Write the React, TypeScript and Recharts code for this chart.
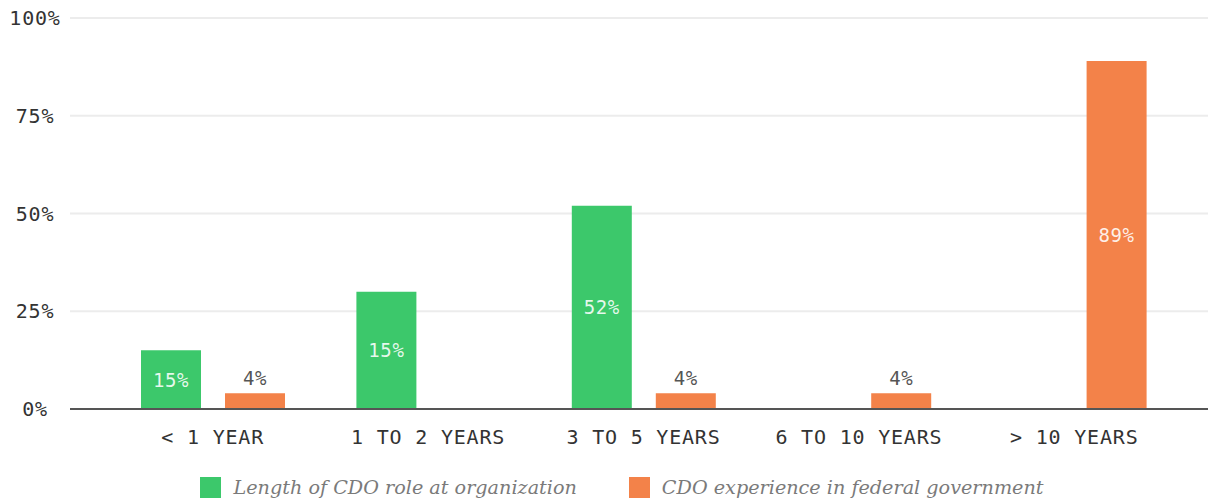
import * as React from "react";
import { BarChart, Bar, XAxis, YAxis, CartesianGrid, Legend, LabelList } from "recharts";

const categories = ["< 1 YEAR", "1 TO 2 YEARS", "3 TO 5 YEARS", "6 TO 10 YEARS", "> 10 YEARS"];
const roleValues = [15, 30, 52, 0, 0];
const roleLabels = ["15%", "15%", "52%", "", ""];
const fedValues = [4, 0, 4, 4, 89];
const fedLabels = ["4%", "", "4%", "4%", "89%"];
const yTicks = [0, 25, 50, 75, 100];

const GREEN = "#3cc86b";
const ORANGE = "#f38249";
const MONO = "'DejaVu Sans Mono', monospace";
const SERIF = "'DejaVu Serif', serif";

const data = categories.map((name, i) => ({
    name,
    role: roleValues[i],
    roleLabel: roleLabels[i],
    fed: fedValues[i],
    fedLabel: fedLabels[i],
}));

// label sits inside tall bars, above short ones
const BarLabel = (props: any) => {
    const { x, y, width, height, value } = props;
    if (!value) return null;
    const inside = height > 40;
    return (
        <text
            x={x + width / 2}
            y={inside ? y + height / 2 : y - 15}
            textAnchor="middle"
            dominantBaseline="central"
            fontFamily={MONO}
            fontSize={19}
            letterSpacing={0.6}
            fill={inside ? "rgba(255,255,255,0.88)" : "#555"}
        >
            {value}
        </text>
    );
};

const YTick = (props: any) => {
    const { y, payload } = props;
    return (
        <text x={35} y={y} textAnchor="middle" dominantBaseline="central" fontFamily={MONO} fontSize={20} letterSpacing={0.8} fill="#333">
            {payload.value}%
        </text>
    );
};

const XTick = (props: any) => {
    const { x, payload } = props;
    return (
        <text x={x} y={437} textAnchor="middle" dominantBaseline="central" fontFamily={MONO} fontSize={20} letterSpacing={0.8} fill="#333">
            {payload.value}
        </text>
    );
};

const LegendContent = () => (
    <div style={{ display: "flex", justifyContent: "center", gap: 52, paddingTop: 17, paddingLeft: 36, fontFamily: SERIF, fontStyle: "italic", fontSize: 19.2, color: "#7a7a7a" }}>
        {[
            { c: GREEN, t: "Length of CDO role at organization" },
            { c: ORANGE, t: "CDO experience in federal government" },
        ].map((it) => (
            <div key={it.t} style={{ display: "flex", alignItems: "center" }}>
                <span style={{ width: 21, height: 21, background: it.c, display: "inline-block", marginRight: 12 }} />
                <span>{it.t}</span>
            </div>
        ))}
    </div>
);

export default function App() {
    return (
        <div style={{ position: "absolute", left: 0, top: 0, background: "#fff" }}>
            <BarChart
                width={1208}
                height={503}
                data={data}
                margin={{ top: 18, right: 0, bottom: 0, left: 0 }}
                barGap={24}
                barSize={60}
            >
                <CartesianGrid vertical={false} stroke="#ececec" strokeWidth={2} />
                <XAxis
                    dataKey="name"
                    tick={<XTick />}
                    tickLine={false}
                    axisLine={{ stroke: "#555", strokeWidth: 2 }}
                    height={50}
                    padding={{ left: 35, right: 26 }}
                    interval={0}
                />
                <YAxis
                    domain={[0, 100]}
                    ticks={yTicks}
                    tick={<YTick />}
                    tickLine={false}
                    axisLine={false}
                    width={70}
                />
                <Legend verticalAlign="bottom" height={44} content={<LegendContent />} />
                <Bar dataKey="role" fill={GREEN} isAnimationActive={false}>
                    <LabelList dataKey="roleLabel" content={<BarLabel />} />
                </Bar>
                <Bar dataKey="fed" fill={ORANGE} isAnimationActive={false}>
                    <LabelList dataKey="fedLabel" content={<BarLabel />} />
                </Bar>
            </BarChart>
        </div>
    );
}
